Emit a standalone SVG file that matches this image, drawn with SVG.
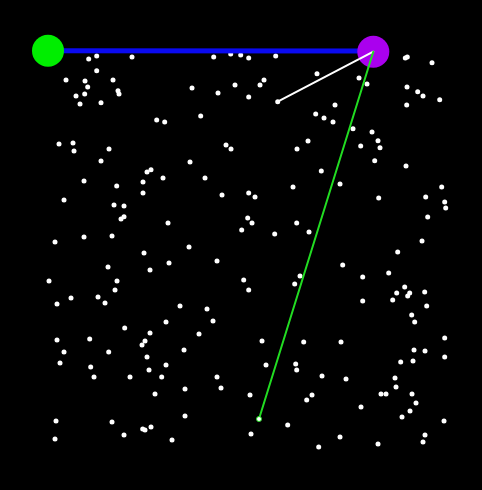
<svg xmlns="http://www.w3.org/2000/svg" width="482" height="490" viewBox="0 0 482 490">
<style>
.d{fill:#ffffff}
.e{stroke-linecap:round;fill:none}
</style>
<defs><circle id="p" r="2.5" class="d"/></defs>
<rect x="0" y="0" width="482" height="490" fill="#000000"/>
<g id="dots">
<use href="#p" x="88.7" y="59"/><use href="#p" x="96.7" y="56"/><use href="#p" x="132" y="57"/><use href="#p" x="96.7" y="70.7"/><use href="#p" x="66" y="80"/><use href="#p" x="85" y="81"/><use href="#p" x="113" y="80"/><use href="#p" x="87.7" y="87"/><use href="#p" x="118" y="90.7"/><use href="#p" x="119" y="94"/><use href="#p" x="76" y="96"/><use href="#p" x="84.7" y="94"/><use href="#p" x="80" y="104"/><use href="#p" x="101" y="102.7"/><use href="#p" x="156.7" y="120"/><use href="#p" x="59" y="144"/><use href="#p" x="73" y="143"/><use href="#p" x="74" y="151"/><use href="#p" x="109" y="149"/><use href="#p" x="101" y="161"/>
<use href="#p" x="213.7" y="57"/><use href="#p" x="230.7" y="54"/><use href="#p" x="240.7" y="55"/><use href="#p" x="248.7" y="58"/><use href="#p" x="275.7" y="56"/><use href="#p" x="317" y="73.7"/><use href="#p" x="192" y="88"/><use href="#p" x="218" y="93"/><use href="#p" x="235" y="85"/><use href="#p" x="264" y="80"/><use href="#p" x="260" y="85"/><use href="#p" x="248.7" y="97"/><use href="#p" x="277.7" y="101.7"/><use href="#p" x="315.7" y="114"/><use href="#p" x="164.7" y="122"/><use href="#p" x="200.7" y="116"/><use href="#p" x="226" y="145"/><use href="#p" x="231" y="149"/><use href="#p" x="297" y="149"/><use href="#p" x="308" y="141"/><use href="#p" x="190" y="162"/>
<use href="#p" x="407.3" y="57"/><use href="#p" x="405.3" y="58"/><use href="#p" x="432" y="62.7"/><use href="#p" x="359" y="78"/><use href="#p" x="367" y="84"/><use href="#p" x="407" y="87"/><use href="#p" x="417.7" y="91.7"/><use href="#p" x="423" y="96"/><use href="#p" x="439.7" y="99.7"/><use href="#p" x="335" y="105"/><use href="#p" x="406.7" y="105"/><use href="#p" x="324" y="118"/><use href="#p" x="333" y="122"/><use href="#p" x="353" y="128.7"/><use href="#p" x="372" y="132"/><use href="#p" x="378" y="140.7"/><use href="#p" x="360.7" y="146"/><use href="#p" x="380" y="147.7"/><use href="#p" x="374.7" y="160.7"/>
<use href="#p" x="151" y="169.7"/><use href="#p" x="147" y="172"/><use href="#p" x="84" y="181"/><use href="#p" x="116.7" y="186"/><use href="#p" x="143" y="182"/><use href="#p" x="143" y="193"/><use href="#p" x="64" y="200"/><use href="#p" x="114" y="205"/><use href="#p" x="124" y="206"/><use href="#p" x="124" y="216.7"/><use href="#p" x="121" y="219"/><use href="#p" x="84" y="237"/><use href="#p" x="112" y="236"/><use href="#p" x="55" y="242"/><use href="#p" x="144" y="253"/><use href="#p" x="108" y="267"/><use href="#p" x="150" y="270"/><use href="#p" x="49" y="281"/><use href="#p" x="117" y="281"/><use href="#p" x="115" y="290"/><use href="#p" x="71" y="298"/><use href="#p" x="98" y="297"/><use href="#p" x="105" y="303"/><use href="#p" x="57" y="304"/>
<use href="#p" x="163" y="178"/><use href="#p" x="205" y="178"/><use href="#p" x="222" y="195"/><use href="#p" x="248.7" y="193"/><use href="#p" x="255" y="197"/><use href="#p" x="293" y="187"/><use href="#p" x="321.3" y="171"/><use href="#p" x="168" y="223"/><use href="#p" x="247.7" y="218"/><use href="#p" x="252" y="223"/><use href="#p" x="241.7" y="230"/><use href="#p" x="274.7" y="234"/><use href="#p" x="296.7" y="223"/><use href="#p" x="309" y="232"/><use href="#p" x="189" y="247"/><use href="#p" x="169" y="263"/><use href="#p" x="217" y="261"/><use href="#p" x="243.7" y="280"/><use href="#p" x="248.7" y="290"/><use href="#p" x="300" y="276"/><use href="#p" x="294.7" y="284"/><use href="#p" x="180" y="306"/><use href="#p" x="207" y="309"/><use href="#p" x="166" y="322"/><use href="#p" x="213" y="321"/>
<use href="#p" x="406" y="166"/><use href="#p" x="340" y="184"/><use href="#p" x="441.7" y="187"/><use href="#p" x="378.7" y="198"/><use href="#p" x="425.7" y="197"/><use href="#p" x="444.7" y="202"/><use href="#p" x="445.7" y="208"/><use href="#p" x="427.7" y="217"/><use href="#p" x="422" y="241"/><use href="#p" x="397.7" y="252"/><use href="#p" x="342.7" y="265"/><use href="#p" x="388.7" y="273"/><use href="#p" x="362.7" y="277"/><use href="#p" x="404.7" y="287"/><use href="#p" x="396.7" y="293"/><use href="#p" x="409.7" y="293"/><use href="#p" x="407.7" y="296"/><use href="#p" x="424.7" y="292"/><use href="#p" x="392.7" y="300"/><use href="#p" x="362.7" y="301"/><use href="#p" x="426.7" y="306"/><use href="#p" x="411.7" y="315"/><use href="#p" x="414.7" y="322"/>
<use href="#p" x="124.7" y="328"/><use href="#p" x="150" y="333"/><use href="#p" x="145" y="341"/><use href="#p" x="142" y="345"/><use href="#p" x="57" y="340"/><use href="#p" x="89.7" y="339"/><use href="#p" x="64" y="352"/><use href="#p" x="108.7" y="352"/><use href="#p" x="147" y="357"/><use href="#p" x="60" y="363"/><use href="#p" x="90.7" y="367"/><use href="#p" x="94" y="377"/><use href="#p" x="130" y="377"/><use href="#p" x="149" y="370"/><use href="#p" x="161.7" y="377"/><use href="#p" x="155" y="394"/><use href="#p" x="56" y="421"/><use href="#p" x="112" y="422"/><use href="#p" x="142.7" y="429"/><use href="#p" x="145" y="430"/><use href="#p" x="151" y="427"/><use href="#p" x="124" y="435"/><use href="#p" x="55" y="439"/>
<use href="#p" x="199" y="334"/><use href="#p" x="184" y="350"/><use href="#p" x="166" y="365"/><use href="#p" x="217" y="377"/><use href="#p" x="221" y="388"/><use href="#p" x="185" y="389"/><use href="#p" x="262" y="341"/><use href="#p" x="303.7" y="342"/><use href="#p" x="266" y="365"/><use href="#p" x="295.7" y="364"/><use href="#p" x="296.7" y="370"/><use href="#p" x="250" y="395"/><use href="#p" x="312" y="395"/><use href="#p" x="306.7" y="400"/><use href="#p" x="185" y="416"/><use href="#p" x="287.7" y="425"/><use href="#p" x="251" y="434"/><use href="#p" x="172" y="440"/><use href="#p" x="318.7" y="447"/>
<use href="#p" x="341" y="342"/><use href="#p" x="444.7" y="338"/><use href="#p" x="414" y="350"/><use href="#p" x="425" y="351"/><use href="#p" x="400.7" y="362"/><use href="#p" x="413" y="361"/><use href="#p" x="444.7" y="357"/><use href="#p" x="322" y="376"/><use href="#p" x="346" y="379"/><use href="#p" x="395" y="378"/><use href="#p" x="396" y="387"/><use href="#p" x="381" y="394"/><use href="#p" x="386" y="394"/><use href="#p" x="412" y="394"/><use href="#p" x="416" y="403"/><use href="#p" x="361" y="407"/><use href="#p" x="410" y="411"/><use href="#p" x="402" y="417"/><use href="#p" x="444" y="421"/><use href="#p" x="425" y="435"/><use href="#p" x="423" y="442"/><use href="#p" x="340" y="437"/><use href="#p" x="378" y="444"/>
</g>
<g id="connectors">
<line class="e" x1="48" y1="50.7" x2="373.3" y2="51" stroke="#0a0af0" stroke-width="5"/>
<line class="e" x1="373.3" y1="51.7" x2="277.7" y2="101.7" stroke="#ffffff" stroke-width="2"/>
<line class="e" x1="373.3" y1="51.7" x2="259" y2="419" stroke="#22dd22" stroke-width="2"/>
</g>
<g id="end-dot"><circle cx="259" cy="419" r="2.5" fill="#ffffff" stroke="#22dd22" stroke-width="1"/></g>
<g id="node-green"><circle cx="48" cy="50.7" r="16" fill="#00ee00"/></g>
<g id="node-purple"><circle cx="373.3" cy="51.7" r="16" fill="#aa00ee"/></g>
<g id="overlay">
<line class="e" x1="373.3" y1="51.7" x2="360" y2="58.7" stroke="#ffffff" stroke-width="2"/>
<line class="e" x1="373.3" y1="51.7" x2="368.5" y2="67" stroke="#22dd22" stroke-width="2"/>
</g>
</svg>
